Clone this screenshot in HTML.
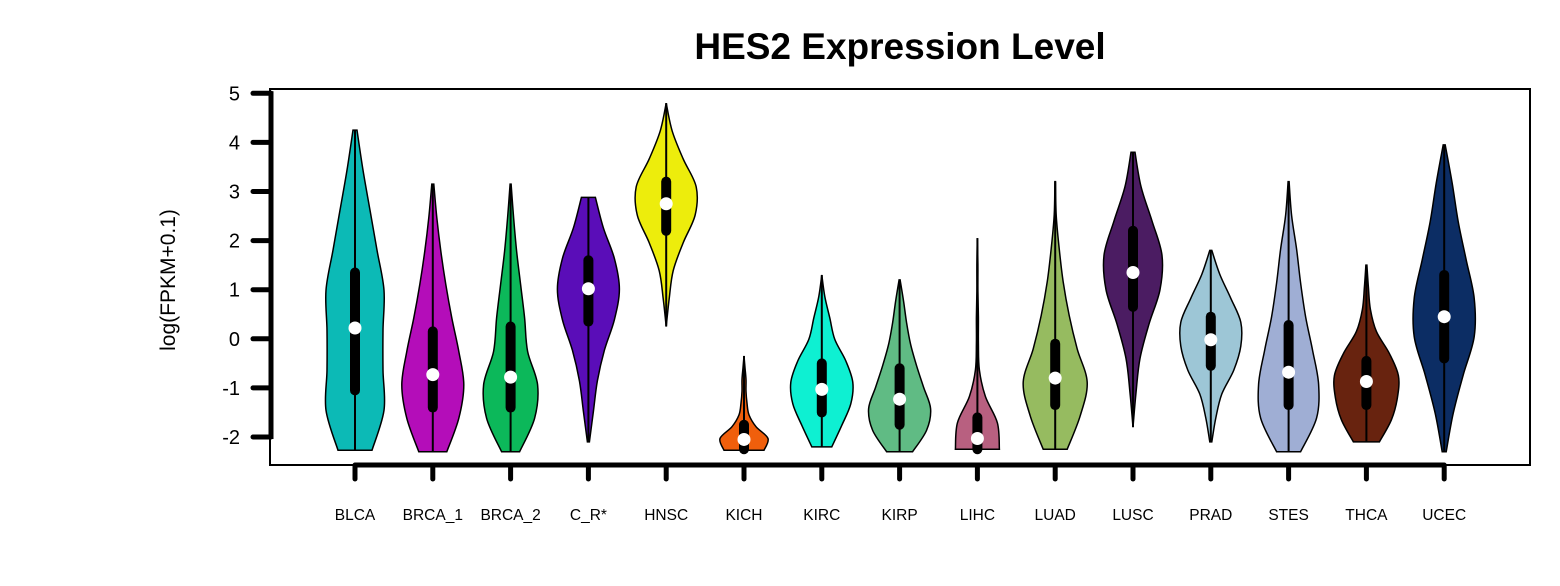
<!DOCTYPE html>
<html><head><meta charset="utf-8"><style>
body{margin:0;background:#fff;}
svg{display:block;font-family:"Liberation Sans",Arial,sans-serif;}
</style></head><body>
<svg id="chart" width="1560" height="586" viewBox="0 0 1560 586">
<text x="900" y="59" text-anchor="middle" font-size="37" font-weight="bold">HES2 Expression Level</text>
<text transform="translate(175,280) rotate(-90)" text-anchor="middle" font-size="21">log(FPKM+0.1)</text>
<rect x="270" y="89" width="1260" height="376" fill="none" stroke="#000" stroke-width="2"/>
<g id="yaxis"></g>
<g id="xaxis"></g>
<g id="violins"></g>
</svg>
<script>
const categories=["BLCA","BRCA_1","BRCA_2","C_R*","HNSC","KICH","KIRC","KIRP","LIHC","LUAD","LUSC","PRAD","STES","THCA","UCEC"];
const colors=["#0cbab6","#b40db9","#0cb85a","#5a0db8","#eded0c","#f05f0c","#0ef0d2","#60bb84","#b86080","#96bb60","#4b1c62","#9dc6d6","#9faed4","#68230f","#0c2d64"];
const mins=[-2.27,-2.3,-2.3,-2.1,0.25,-2.27,-2.2,-2.3,-2.25,-2.25,-1.8,-2.1,-2.3,-2.1,-2.3];
const maxs=[4.25,3.15,3.15,2.88,4.8,-0.35,1.3,1.2,2.05,3.2,3.8,1.8,3.2,1.5,3.95];
const medians=[0.22,-0.73,-0.78,1.02,2.75,-2.05,-1.03,-1.23,-2.03,-0.8,1.35,-0.02,-0.68,-0.87,0.45];
const q1s=[-1.05,-1.4,-1.4,0.35,2.2,-2.25,-1.5,-1.75,-2.25,-1.35,0.65,-0.55,-1.35,-1.35,-0.4];
const q3s=[1.35,0.15,0.25,1.6,3.2,-1.75,-0.5,-0.6,-1.6,-0.1,2.2,0.45,0.28,-0.45,1.3];
const densities=[
[17,29,28,28,29,22,15,8,2],
[14,26,31,26,19,13,8,4,1],
[9,24,27,17,14,10,6,3,0.5],
[1,5,9,16,26,31,26,15,7],
[0,3,7,17,29,30,17,6,0],
[20,24,12,5,3,2,2,1,0],
[10,20,29,31,24,13,8,3,0],
[13,27,31,24,17,11,7,4,0.5],
[22,20,8,2,1,1,0.5,0.5,0],
[12,25,32,22,14,8,4,1,0.3],
[0,3,7,16,27,29,19,8,2],
[1,5,11,23,30,30,20,9,1],
[12,28,30,24,17,12,8,3,0.5],
[13,25,31,32,23,10,4,2,0.5],
[2,9,19,30,30,22,14,8,1]];
const yTicks=[5,4,3,2,1,0,-1,-2];

const NS="http://www.w3.org/2000/svg";
const y=v=>437-(v+2)*49.1;
const x=i=>355+i*77.8;
function mk(t,a,p){const e=document.createElementNS(NS,t);for(const k in a)e.setAttribute(k,a[k]);p.appendChild(e);return e;}
const ya=document.getElementById('yaxis'),xa=document.getElementById('xaxis'),vg=document.getElementById('violins');
let l=mk('line',{x1:271,x2:271,y1:y(5)-2,y2:y(-2)+2,stroke:'#000','stroke-width':5},ya);


yTicks.forEach(v=>{
 const t=mk('line',{x1:253,x2:271,y1:y(v),y2:y(v),stroke:'#000','stroke-width':5,'stroke-linecap':'round'},ya);
 
 
 const tx=mk('text',{x:240,y:y(v)+7,'text-anchor':'end','font-size':20},ya);
 tx.textContent=v;
 
 
});
l=mk('line',{x1:x(0),x2:x(categories.length-1),y1:465,y2:465,stroke:'#000','stroke-width':5},xa);


categories.forEach((c,i)=>{
 const t=mk('line',{x1:x(i),x2:x(i),y1:465,y2:479,stroke:'#000','stroke-width':5,'stroke-linecap':'round'},xa);
 
 
 const tx=mk('text',{x:x(i),y:520,'text-anchor':'middle','font-size':15.5},xa);
 tx.textContent=c;
 
 
});
function smooth(pts){
 let d='';
 for(let i=0;i<pts.length-1;i++){
  const p0=pts[Math.max(i-1,0)],p1=pts[i],p2=pts[i+1],p3=pts[Math.min(i+2,pts.length-1)];
  const c1=[p1[0]+(p2[0]-p0[0])/6,p1[1]+(p2[1]-p0[1])/6],c2=[p2[0]-(p3[0]-p1[0])/6,p2[1]-(p3[1]-p1[1])/6];
  d+=` C${c1[0]},${c1[1]} ${c2[0]},${c2[1]} ${p2[0]},${p2[1]}`;
 }
 return d;
}
categories.forEach((c,i)=>{
 const g=mk('g',{},vg);
 
 
 const dens=densities[i],n=dens.length,cx=x(i);
 const right=dens.map((w,k)=>[cx+w,y(mins[i]+(maxs[i]-mins[i])*k/(n-1))]);
 const left=dens.map((w,k)=>[cx-w,y(mins[i]+(maxs[i]-mins[i])*k/(n-1))]).reverse();
 let d=`M${right[0][0]},${right[0][1]}`+smooth(right)+` L${left[0][0]},${left[0][1]}`+smooth(left)+' Z';
 const p=mk('path',{d:d,fill:colors[i],stroke:'#000','stroke-width':1.5},g);
 
 
 const w=mk('line',{x1:cx,x2:cx,y1:y(mins[i]),y2:y(maxs[i]),stroke:'#000','stroke-width':2},g);
 
 
 const b=mk('line',{x1:cx,x2:cx,y1:y(q1s[i]),y2:y(q3s[i]),stroke:'#000','stroke-width':10,'stroke-linecap':'round'},g);
 
 
 const m=mk('circle',{cx:cx,cy:y(medians[i]),r:6.5,fill:'#fff'},g);
 
 
});
</script>
</body></html>
